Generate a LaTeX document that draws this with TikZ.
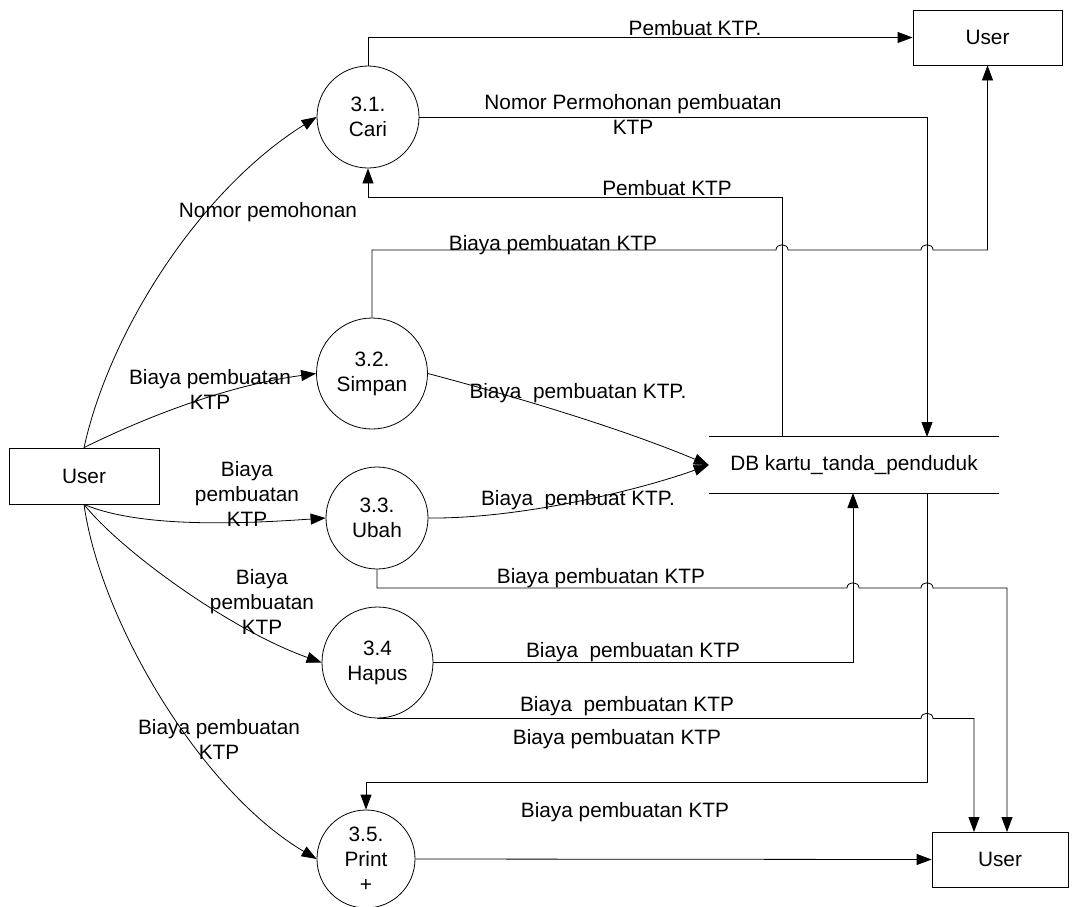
\documentclass[tikz,border=0pt]{standalone}
\usepackage{fontspec}
\setmainfont{Liberation Sans}
\usetikzlibrary{arrows.meta}
\begin{document}
\begin{tikzpicture}[x=1pt,y=-1pt,
  every node/.style={font=\fontsize{20.8}{25}\selectfont},
  proc/.style={circle,draw,line width=0.8pt,inner sep=0pt,align=center},
  ent/.style={rectangle,draw,line width=0.8pt,minimum width=150pt,minimum height=56pt,inner sep=0pt},
  flow/.style={line width=0.8pt,-{Triangle[length=15pt,width=11pt]}},
  lbl/.style={align=center,inner sep=0pt}]
\useasboundingbox (0,0) rectangle (1072,906);

% entities
\node[ent,minimum width=149pt,minimum height=55pt] (U1) at (987.5,37.5) {User};
\node[ent] (U2) at (84,476) {User};
\node[ent,minimum width=136pt,minimum height=55pt] (U3) at (1000,859.5) {User};

% processes
\node[proc,minimum size=102pt] (P1) at (368,117) {3.1.\\Cari};
\node[proc,minimum size=111pt] (P2) at (372,373.5) {3.2.\\Simpan};
\node[proc,minimum size=102pt] (P3) at (377,518) {3.3.\\Ubah};
\node[proc,minimum size=111pt] (P4) at (377.5,662.5) {3.4\\Hapus};
\node[proc,minimum size=98pt] (P5) at (366,859) {3.5.\\Print\\+};

% data store
\node[minimum width=290pt,minimum height=56pt,inner sep=0pt] (db) at (854,465) {DB kartu\_tanda\_penduduk};
\draw[line width=0.8pt] (db.north west) -- (db.north east) (db.south west) -- (db.south east);

% named points
\coordinate (dbA) at (782,437);
\coordinate (dbB) at (927,437);
\coordinate (dbC) at (853,493);
\coordinate (dbD) at (927,493);
\coordinate (k1) at (368,197);
\coordinate (k2) at (366,782);
\coordinate (u3a) at (974,832);
\coordinate (u3b) at (1007,832);

% orthogonal flows
\draw[flow] (P1.north) |- (U1.west);
\draw[flow] (P1.east) -| (dbB);
\draw[flow] (dbA) |- (k1) -- (P1.south);
\draw[flow] (P2.north) |- (776,250) .. controls (776,243) and (788,243) .. (788,250)
  -- (921,250) .. controls (921,243) and (933,243) .. (933,250) -| (U1.south);
\draw[flow] (dbD) |- (k2) -- (P5.north);
\draw[flow] (P3.south) |- (847,588) .. controls (847,581) and (859,581) .. (859,588)
  -- (921,588) .. controls (921,581) and (933,581) .. (933,588) -| (u3b);
\draw[flow] (P4.east) -| (dbC);
\draw[flow] (P4.south) |- (921,718.5) .. controls (921,711.5) and (933,711.5) .. (933,718.5) -| (u3a);
\draw[flow] (P5.east) -- (U3.west);

% curved flows
\draw[flow] (P2.east) .. controls (520,398) and (620,428) .. (db.west);
\draw[flow] (P3.east) .. controls (520,519) and (640,490) .. (db.west);
\draw[flow] (U2.north) .. controls (110,330) and (200,190) .. (P1.west);
\draw[flow] (U2.north) .. controls (150,415) and (230,385) .. (P2.west);
\draw[flow] (U2.south) .. controls (140,528) and (240,524) .. (P3.west);
\draw[flow] (U2.south) .. controls (120,550) and (230,630) .. (P4.west);
\draw[flow] (U2.south) .. controls (100,620) and (200,790) .. (P5.west);

% labels
\node[lbl] (t1) at (695,28) {Pembuat KTP.};
\node[lbl] (t2) at (633,114) {Nomor Permohonan pembuatan\\KTP};
\node[lbl] (t3) at (667,188) {Pembuat KTP};
\node[lbl] (t4) at (553,245) {Biaya pembuatan KTP};
\node[lbl] (t5) at (578,393) {Biaya\ \ pembuatan KTP.};
\node[lbl] (t6) at (578,500) {Biaya\ \ pembuat KTP.};
\node[lbl] (t7) at (601,578) {Biaya pembuatan KTP};
\node[lbl] (t8) at (633,652) {Biaya\ \ pembuatan KTP};
\node[lbl] (t9) at (627,706) {Biaya\ \ pembuatan KTP};
\node[lbl] (t10) at (617,739) {Biaya pembuatan KTP};
\node[lbl] (t11) at (625,812) {Biaya pembuatan KTP};
\node[lbl] (t12) at (268,212) {Nomor pemohonan};
\node[lbl] (t13) at (210,389) {Biaya pembuatan\\KTP};
\node[lbl] (t14) at (247,494) {Biaya\\pembuatan\\KTP};
\node[lbl] (t15) at (262,602) {Biaya\\pembuatan\\KTP};
\node[lbl] (t16) at (219,739) {Biaya pembuatan\\KTP};
\end{tikzpicture}
\end{document}
